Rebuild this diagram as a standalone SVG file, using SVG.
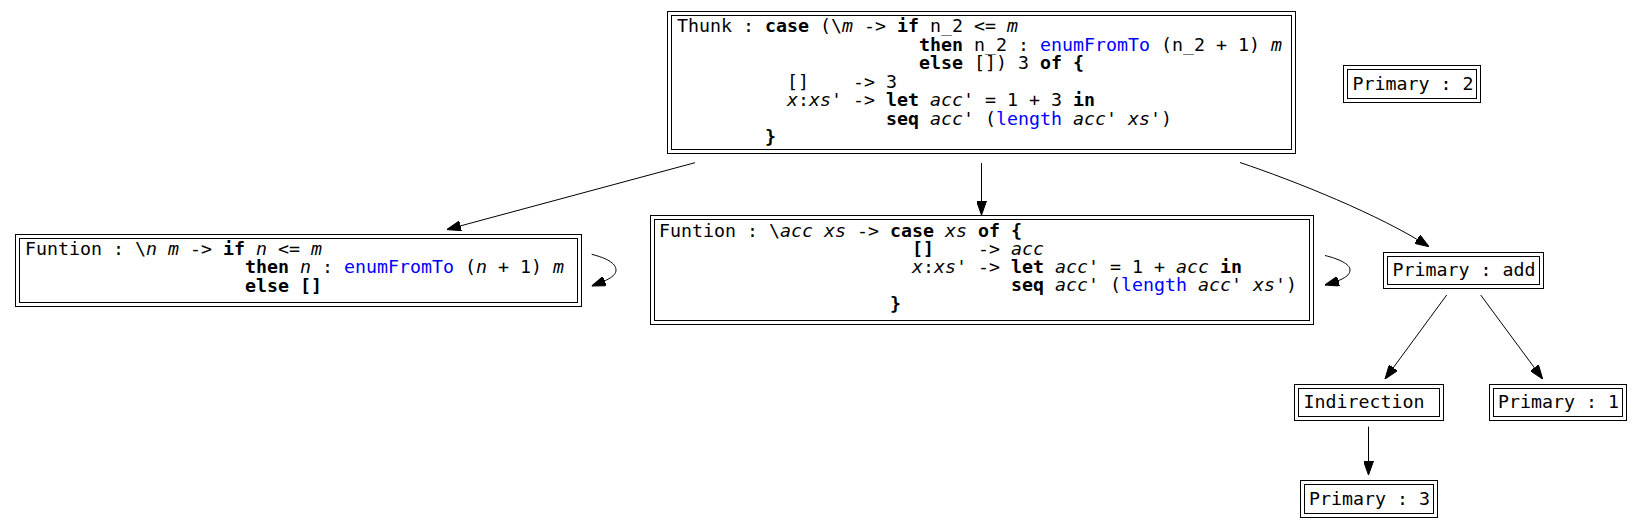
<svg xmlns="http://www.w3.org/2000/svg" width="1643" height="528" viewBox="0 0 1643 528">
<style>
.t{font-family:"DejaVu Sans Mono","Liberation Mono",monospace;font-size:18.27px;fill:#000;white-space:pre}
.b{font-weight:bold}
.i{font-style:italic}
.k{fill:#0000ff}
.box{fill:none;stroke:#000;stroke-width:1}
.edge{fill:none;stroke:#000;stroke-width:1}
</style>
<defs>
<marker id="arr" viewBox="0 0 14 10" markerWidth="14" markerHeight="10" refX="14" refY="5" orient="auto" markerUnits="userSpaceOnUse">
<path d="M0,0 L14,5 L0,10 z" fill="#000" stroke="#000" stroke-width="1"/>
</marker>
</defs>
<rect width="1643" height="528" fill="#fff"/>
<g id="connectors">
<path class="edge" marker-end="url(#arr)" d="M695,162.7 L447,229.5"/>
<path class="edge" marker-end="url(#arr)" d="M981.5,163 L981.5,215"/>
<path class="edge" marker-end="url(#arr)" d="M1240,162.5 C1295,181 1380,215 1429,246.7"/>
<path class="edge" marker-end="url(#arr)" d="M591.7,254.3 C606,258 616,263 616,270 C616,277 605,281 591.7,286"/>
<path class="edge" marker-end="url(#arr)" d="M1325,255.5 C1339,259 1350,264 1350,270 C1350,277 1339,281 1325,285"/>
<path class="edge" marker-end="url(#arr)" d="M1446.7,295 L1385,379"/>
<path class="edge" marker-end="url(#arr)" d="M1480.7,295 L1542.7,379"/>
<path class="edge" marker-end="url(#arr)" d="M1368.5,426.7 L1368.5,475"/>
</g>
<g id="thunk">
<rect class="box" x="667.5" y="11.5" width="628" height="142"/>
<rect class="box" x="671.5" y="15.5" width="620" height="134"/>
<text class="t" xml:space="preserve" x="677" y="32.2">Thunk : <tspan class="b">case</tspan> (\<tspan class="i">m</tspan> -&gt; <tspan class="b">if</tspan> n_2 &lt;= <tspan class="i">m</tspan></text>
<text class="t" xml:space="preserve" x="919" y="50.7"><tspan class="b">then</tspan> n_2 : <tspan class="k">enumFromTo</tspan> (n_2 + 1) <tspan class="i">m</tspan></text>
<text class="t" xml:space="preserve" x="919" y="69.2"><tspan class="b">else</tspan> []) 3 <tspan class="b">of</tspan> <tspan class="b">{</tspan></text>
<text class="t" xml:space="preserve" x="787" y="87.7">[]    -&gt; 3</text>
<text class="t" xml:space="preserve" x="787" y="106.2"><tspan class="i">x</tspan>:<tspan class="i">xs</tspan>' -&gt; <tspan class="b">let</tspan> <tspan class="i">acc</tspan>' = 1 + 3 <tspan class="b">in</tspan></text>
<text class="t" xml:space="preserve" x="886" y="124.7"><tspan class="b">seq</tspan> <tspan class="i">acc</tspan>' (<tspan class="k">length</tspan> <tspan class="i">acc</tspan>' <tspan class="i">xs</tspan>')</text>
<text class="t b" xml:space="preserve" x="765" y="143.2">}</text>
</g>
<g id="fun_left">
<rect class="box" x="15.5" y="234.5" width="566" height="72"/>
<rect class="box" x="19.5" y="238.5" width="558" height="64"/>
<text class="t" xml:space="preserve" x="25" y="254.5">Funtion : \<tspan class="i">n</tspan> <tspan class="i">m</tspan> -&gt; <tspan class="b">if</tspan> <tspan class="i">n</tspan> &lt;= <tspan class="i">m</tspan></text>
<text class="t" xml:space="preserve" x="245" y="273"><tspan class="b">then</tspan> <tspan class="i">n</tspan> : <tspan class="k">enumFromTo</tspan> (<tspan class="i">n</tspan> + 1) <tspan class="i">m</tspan></text>
<text class="t" xml:space="preserve" x="245" y="291.5"><tspan class="b">else</tspan> <tspan class="b">[]</tspan></text>
</g>
<g id="fun_mid">
<rect class="box" x="650.5" y="215.5" width="663" height="109"/>
<rect class="box" x="654.5" y="219.5" width="655" height="101"/>
<text class="t" xml:space="preserve" x="659" y="236.7">Funtion : \<tspan class="i">acc</tspan> <tspan class="i">xs</tspan> -&gt; <tspan class="b">case</tspan> <tspan class="i">xs</tspan> <tspan class="b">of</tspan> <tspan class="b">{</tspan></text>
<text class="t" xml:space="preserve" x="912" y="254.9"><tspan class="b">[]</tspan>    -&gt; <tspan class="i">acc</tspan></text>
<text class="t" xml:space="preserve" x="912" y="273.1"><tspan class="i">x</tspan>:<tspan class="i">xs</tspan>' -&gt; <tspan class="b">let</tspan> <tspan class="i">acc</tspan>' = 1 + <tspan class="i">acc</tspan> <tspan class="b">in</tspan></text>
<text class="t" xml:space="preserve" x="1011" y="291.3"><tspan class="b">seq</tspan> <tspan class="i">acc</tspan>' (<tspan class="k">length</tspan> <tspan class="i">acc</tspan>' <tspan class="i">xs</tspan>')</text>
<text class="t b" xml:space="preserve" x="890" y="309.5">}</text>
</g>
<g id="primary2">
<rect class="box" x="1343.5" y="65.5" width="137" height="37"/>
<rect class="box" x="1347.5" y="69.5" width="129" height="29"/>
<text class="t" xml:space="preserve" x="1352.5" y="89.5">Primary : 2</text>
</g>
<g id="primary_add">
<rect class="box" x="1383.5" y="252.5" width="160" height="36"/>
<rect class="box" x="1387.5" y="256.5" width="152" height="28"/>
<text class="t" xml:space="preserve" x="1392.5" y="275.5">Primary : add</text>
</g>
<g id="indirection">
<rect class="box" x="1294.5" y="384.5" width="149" height="36"/>
<rect class="box" x="1298.5" y="388.5" width="141" height="28"/>
<text class="t" xml:space="preserve" x="1303.5" y="408">Indirection </text>
</g>
<g id="primary1">
<rect class="box" x="1489.5" y="384.5" width="137" height="36"/>
<rect class="box" x="1493.5" y="388.5" width="129" height="28"/>
<text class="t" xml:space="preserve" x="1498" y="408">Primary : 1</text>
</g>
<g id="primary3">
<rect class="box" x="1300.5" y="480.5" width="137" height="37"/>
<rect class="box" x="1304.5" y="484.5" width="129" height="29"/>
<text class="t" xml:space="preserve" x="1309" y="504.5">Primary : 3</text>
</g>
</svg>
